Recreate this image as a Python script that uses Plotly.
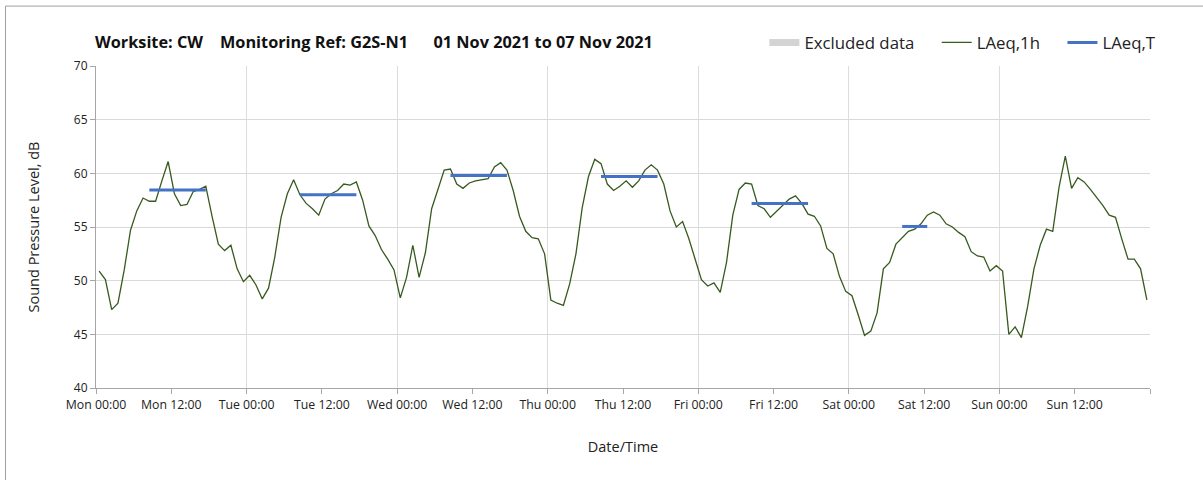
import pandas as pd
import plotly.graph_objects as go

# Hourly LAeq,1h values (dB), 01 Nov 2021 00:00 to 07 Nov 2021 23:00
mon = [50.9, 50.1, 47.3, 47.9, 51.0, 54.7, 56.5, 57.7, 57.4, 57.4, 59.3, 61.1,
       58.1, 57.0, 57.1, 58.3, 58.5, 58.8, 56.0, 53.4, 52.8, 53.3, 51.1, 49.9]
tue = [50.5, 49.6, 48.3, 49.3, 52.2, 55.9, 58.1, 59.4, 58.0, 57.2, 56.7, 56.1,
       57.6, 58.1, 58.4, 59.0, 58.9, 59.2, 57.5, 55.1, 54.2, 52.9, 52.0, 51.0]
wed = [48.4, 50.3, 53.3, 50.3, 52.6, 56.7, 58.5, 60.3, 60.4, 59.0, 58.6, 59.1,
       59.3, 59.4, 59.5, 60.6, 61.0, 60.3, 58.4, 56.0, 54.6, 54.0, 53.9, 52.5]
thu = [48.2, 47.9, 47.7, 49.7, 52.5, 56.8, 59.7, 61.3, 60.9, 59.0, 58.4, 58.8,
       59.3, 58.7, 59.3, 60.3, 60.8, 60.3, 59.0, 56.5, 55.0, 55.5, 53.9, 52.0]
fri = [50.1, 49.5, 49.8, 48.9, 51.7, 56.1, 58.5, 59.1, 59.0, 57.0, 56.7, 55.9,
       56.5, 57.1, 57.6, 57.9, 57.2, 56.2, 56.0, 55.1, 53.0, 52.5, 50.4, 49.0]
sat = [48.6, 46.8, 44.9, 45.3, 47.0, 51.1, 51.7, 53.4, 54.0, 54.6, 54.8, 55.3,
       56.1, 56.4, 56.1, 55.3, 55.0, 54.5, 54.1, 52.7, 52.3, 52.2, 50.9, 51.4]
sun = [50.9, 45.0, 45.7, 44.7, 47.6, 51.1, 53.3, 54.8, 54.6, 58.7, 61.6, 58.6,
       59.6, 59.2, 58.5, 57.8, 57.0, 56.1, 55.9, 53.9, 52.0, 52.0, 51.1, 48.2]

# LAeq,T per day (dB) and its period (first and last hour)
laeqT_days = ["2021-11-01", "2021-11-02", "2021-11-03", "2021-11-04", "2021-11-05", "2021-11-06"]
laeqT_values = [58.45, 58.0, 59.8, 59.7, 57.2, 55.05]
period_first_hour = [8, 8, 8, 8, 8, 8]
period_last_hour = [17, 17, 17, 17, 17, 12]

# x-axis tick labels every 12 hours
tick_times = pd.date_range("2021-11-01 00:00", "2021-11-07 12:00", freq="12h")
tick_labels = [t.strftime("%a %H:%M") for t in tick_times]

lhour = mon + tue + wed + thu + fri + sat + sun
times = pd.date_range("2021-11-01 00:30", periods=len(lhour), freq="h")

tx, ty = [], []
for d, v, h0, h1 in zip(laeqT_days, laeqT_values, period_first_hour, period_last_hour):
    base = pd.Timestamp(d) + pd.Timedelta(minutes=30)
    tx += [base + pd.Timedelta(hours=h0), base + pd.Timedelta(hours=h1), None]
    ty += [v, v, None]

FONT = "Open Sans"
GREEN = "#375a1e"
BLUE = "#4472c4"
AX = "#a6a6a6"
SP = "&nbsp;" * 4

fig = go.Figure()
fig.add_trace(go.Scatter(x=[None], y=[None], mode="lines", name="Excluded data" + SP,
                         line=dict(color="#d4d4d4", width=7), xaxis="x2"))
fig.add_trace(go.Scatter(x=times, y=lhour, mode="lines", name="LAeq,1h" + SP,
                         line=dict(color=GREEN, width=1.3)))
fig.add_trace(go.Scatter(x=tx, y=ty, mode="lines", name="LAeq,T",
                         line=dict(color=BLUE, width=3)))

xr = ["2021-11-01 00:00", "2021-11-08 00:00"]
fig.update_layout(
    width=1203, height=480,
    margin=dict(l=96, r=53, t=66, b=92, autoexpand=False),
    paper_bgcolor="white", plot_bgcolor="white",
    font=dict(family=FONT, color="#222222"),
    title=dict(text="Worksite: CW&nbsp;&nbsp;&nbsp;&nbsp;Monitoring Ref: G2S-N1&nbsp;&nbsp;&nbsp;&nbsp;&nbsp;&nbsp;01 Nov 2021 to 07 Nov 2021",
               x=95 / 1203, xanchor="left", xref="container",
               y=1 - 42 / 480, yanchor="middle", yref="container",
               font=dict(family=FONT, size=16.3, color="#111111", weight="bold")),
    legend=dict(orientation="h", x=1.0108, xanchor="right", y=1.073, yanchor="middle",
                font=dict(family=FONT, size=16.8, color="#222222"),
                bgcolor="rgba(0,0,0,0)", itemwidth=30, tracegroupgap=0),
    xaxis=dict(type="date", range=xr, tickvals=tick_times, ticktext=tick_labels,
               showgrid=False, ticks="outside", ticklen=5, automargin=False,
               tickcolor=AX, showline=True, linecolor=AX, linewidth=1,
               tickfont=dict(family=FONT, size=12.3, color="#222222"),
               title=dict(text="Date/Time", font=dict(family=FONT, size=14.5), standoff=30)),
    xaxis2=dict(type="date", range=xr, overlaying="x", anchor="y", side="bottom",
                dtick=24 * 3600 * 1000, tick0="2021-11-01", showgrid=True,
                gridcolor="#dcdcdc", gridwidth=1, showticklabels=False,
                ticks="outside", ticklen=5, tickcolor=AX, automargin=False,
                showline=False, zeroline=False),
    yaxis=dict(range=[40, 70], dtick=5, showgrid=True, gridcolor="#d9d9d9", gridwidth=1,
               ticks="outside", ticklen=5, tickcolor=AX, showline=True, automargin=False,
               linecolor=AX, linewidth=1, zeroline=False,
               tickfont=dict(family=FONT, size=12, color="#222222"),
               title=dict(text="Sound Pressure Level, dB", font=dict(family=FONT, size=14.5),
                          standoff=30)),
    shapes=[dict(type="rect", xref="paper", yref="paper",
                 x0=(5.5 - 96) / 1054, x1=1.2, y0=-0.5, y1=(388.5 - 6) / 322.5,
                 line=dict(color="#a0a0a0", width=1), fillcolor="rgba(0,0,0,0)",
                 layer="below")],
)

fig.write_html("out.html", config={"displayModeBar": False},
               post_script="document.body.style.margin='0px';")
